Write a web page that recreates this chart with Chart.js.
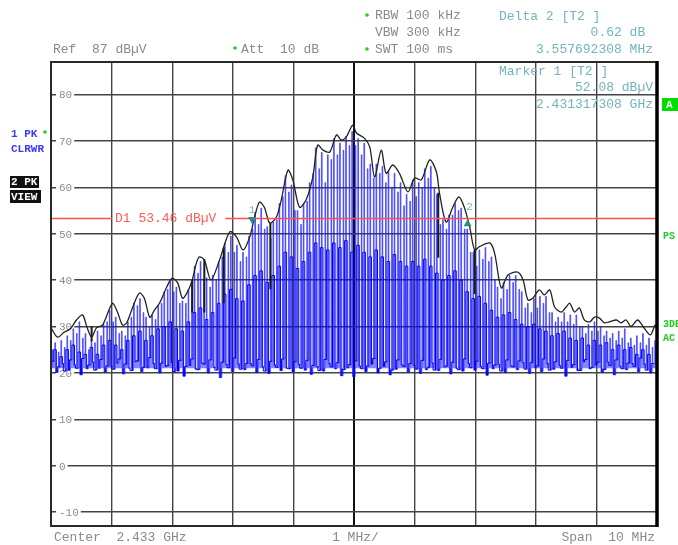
<!DOCTYPE html>
<html>
<head>
<meta charset="utf-8">
<script src="https://cdn.jsdelivr.net/npm/chart.js@4.4.0/dist/chart.umd.min.js"></script>
<style>
  html, body { margin: 0; padding: 0; background: #fff; }
  canvas { display: block; }
</style>
</head>
<body>
<canvas id="chart" width="678" height="545"></canvas>
<script>
// frequency axis: offset from center 2.433 GHz, in MHz
const spanMin = -5, spanMax = 5;
const refLevel = 87, bottomLevel = -13;
const yTickLabels = [80, 70, 60, 50, 40, 30, 20, 10, 0, -10];
const xGridValues = [-5, -4, -3, -2, -1, 0, 1, 2, 3, 4, 5];

// trace 2 (PK, VIEW / max hold)
const viewFreq = [
  -5.00, -4.89, -4.78, -4.68, -4.58, -4.48, -4.41, -4.33, -4.25, -4.15,
  -4.03, -3.98, -3.90, -3.82, -3.75, -3.65, -3.54, -3.46, -3.37, -3.29,
  -3.21, -3.09, -3.00, -2.91, -2.83, -2.75, -2.67, -2.60, -2.55, -2.47,
  -2.36, -2.22, -2.05, -1.94, -1.83, -1.72, -1.64, -1.56, -1.48, -1.39,
  -1.28, -1.20, -1.09, -1.01, -0.90, -0.79, -0.68, -0.60, -0.51, -0.40,
  -0.29, -0.21, -0.13, -0.02, 0.04, 0.17, 0.26, 0.34, 0.45, 0.53,
  0.64, 0.75, 0.89, 1.00, 1.11, 1.25, 1.36, 1.41, 1.52, 1.63,
  1.73, 1.82, 1.91, 1.99, 2.07, 2.24, 2.32, 2.43, 2.54, 2.70,
  2.79, 2.87, 2.95, 3.06, 3.14, 3.23, 3.31, 3.42, 3.50, 3.56,
  3.64, 3.72, 3.80, 3.89, 3.97, 4.05, 4.13, 4.21, 4.33, 4.41,
  4.49, 4.57, 4.68, 4.77, 4.89, 4.97, 5.00
];
const viewLevel = [
  29.7, 27.7, 28.8, 29.5, 31.4, 32.5, 30.0, 27.7, 29.7, 30.3,
  34.0, 35.0, 33.0, 30.3, 30.8, 34.2, 37.2, 36.1, 32.0, 33.6,
  35.0, 38.5, 40.4, 39.4, 36.1, 37.4, 40.0, 43.7, 45.0, 44.3,
  40.0, 44.3, 50.4, 49.3, 46.5, 49.3, 53.6, 56.8, 55.7, 52.3,
  53.6, 57.3, 63.7, 61.6, 55.7, 57.3, 62.2, 69.1, 68.0, 67.6,
  71.3, 70.2, 70.8, 73.4, 71.7, 70.6, 68.7, 62.2, 68.0, 63.0,
  64.8, 63.0, 59.0, 62.0, 61.6, 65.9, 63.3, 58.8, 52.5, 55.7,
  57.9, 55.7, 51.4, 46.5, 47.2, 48.0, 45.8, 38.3, 41.1, 41.7,
  40.0, 35.7, 36.1, 37.9, 36.8, 37.9, 34.2, 33.1, 34.2, 35.0,
  33.1, 34.0, 31.4, 31.0, 32.0, 31.8, 30.8, 31.0, 31.4, 30.8,
  31.4, 30.0, 31.4, 30.0, 28.2, 30.3, 29.5
];
// short drop-outs of trace 2
const dipFreq = [-4.33, -2.67, -2.47, -2.15, -1.38, 1.39, 1.99];
const dipTop = [30.0, 40.0, 44.5, 47.0, 52.3, 58.8, 46.5];
const dipBottom = [26.8, 33.0, 33.0, 35.0, 38.0, 44.8, 37.0];

// trace 1 (PK, CLRWR), one cell every 0.1 MHz:
// a tall spike, a second spike, a short dark spike and two troughs
const gridStart = -5, gridStep = 0.1;
const spikeTop = [
  28, 26.5, 27, 28, 29.5, 31, 28.5, 27, 29, 30.5,
  33.5, 32, 29, 31, 35, 36, 32, 32.5, 34.5, 37.5,
  40, 38.5, 35.5, 38, 43, 44, 40.5, 41, 44, 48,
  49.5, 47.5, 46, 49.5, 54.5, 55.5, 51.5, 52.5, 56.5, 62.5,
  60.5, 55, 56.5, 61, 68.5, 67.5, 67, 70.5, 69.5, 71,
  72, 70.5, 69.5, 65, 65, 64.5, 63.5, 63, 61, 58.5,
  61.5, 61, 64, 64.5, 58.5, 53, 54, 56.5, 55.5, 51,
  46, 46.5, 47, 45, 38.5, 39.5, 41, 41, 37.5, 35,
  36, 36.5, 36.5, 33, 32, 33, 32.5, 32.5, 30, 30.5,
  31, 30, 29, 28.5, 29, 29.5, 27.5, 28, 28.5, 27.5,
  27
];
const secondTop = [
  25, 24.5, 25.5, 27, 28.5, 27.5, 25, 26.5, 28, 31,
  31, 28.5, 28, 32, 34.5, 33, 30, 31.5, 35, 38,
  37.5, 35, 35, 40, 41.5, 40, 38.5, 40, 45, 46,
  46, 44, 45, 51, 52, 51, 49, 53, 58, 59,
  55, 52, 57, 63, 64, 61, 66, 67, 68, 69,
  69, 67, 64, 62, 63, 61, 60, 59, 56, 57,
  58, 60, 62, 60, 52, 51, 54, 55, 51, 46,
  43, 44.5, 44, 40, 36, 38, 39.5, 38, 34, 33,
  34, 35, 33, 31, 31, 31, 30.5, 30, 28.5, 29,
  29, 28, 27.5, 27, 27.5, 26.5, 26, 26.5, 26, 25.5
];
const shortTop = [
  24, 25, 23.5, 25, 26, 24.5, 24, 25.5, 24, 26,
  27, 26, 25, 27, 28, 29, 27, 28, 29.5, 30,
  31, 29.5, 29, 31, 33, 34, 31.5, 33, 35, 37,
  38, 36, 35.5, 39, 41, 42, 39.5, 41, 43, 46,
  45, 42.5, 44, 46, 48, 47, 46.5, 48, 47, 48.5,
  46, 47.5, 46, 45, 46.5, 45, 44, 45.5, 44, 43,
  44, 43, 44.5, 43, 41.5, 40, 41, 42, 40, 37.5,
  36, 36.5, 35, 33.5, 32, 32.5, 33, 31.5, 30.5, 30,
  30.5, 29.5, 29, 28, 28.5, 29, 27.5, 27, 27.5, 26,
  27, 26, 26.5, 25, 26, 25, 25.5, 24, 25, 24
];
const troughA = [
  21.2, 20.1, 22.0, 20.6, 21.7, 19.6, 20.9, 22.3, 21.0, 20.2,
  21.5, 22.1, 19.8, 21.0, 22.4, 20.3, 21.1, 22.0, 20.0, 21.4,
  22.2, 20.4, 19.3, 21.6, 20.8, 22.1, 20.0, 21.2, 19.0, 21.8,
  20.3, 21.9, 20.7, 22.0, 20.1, 21.3, 19.9, 21.7, 20.5, 21.0,
  20.2, 21.8, 20.6, 19.7, 21.3, 20.4, 22.0, 20.9, 19.4, 21.1,
  19.2, 21.5, 20.3, 21.9, 20.0, 21.4, 19.6, 20.8, 21.7, 20.2,
  21.6, 19.9, 20.7, 22.1, 20.5, 21.3, 19.8, 21.0, 20.4, 22.0,
  20.6, 21.4, 19.5, 20.9, 21.8, 20.1, 21.5, 20.7, 22.2, 19.9,
  21.1, 20.3, 22.0, 20.8, 21.6, 19.3, 21.2, 20.5, 22.4, 20.9,
  21.7, 20.2, 22.3, 19.6, 21.4, 20.7, 22.0, 20.3, 21.9, 20.0
];
const troughB = [
  22.5, 21.3, 20.4, 22.8, 21.0, 23.1, 21.7, 20.6, 22.9, 21.5,
  20.8, 23.0, 21.9, 20.5, 22.6, 21.2, 23.3, 20.9, 22.1, 21.6,
  20.3, 22.7, 21.4, 23.0, 20.7, 21.9, 22.8, 20.6, 22.3, 21.1,
  23.2, 20.8, 22.0, 21.5, 22.9, 20.4, 22.5, 21.2, 23.0, 20.9,
  22.4, 21.0, 22.7, 21.6, 20.5, 22.9, 21.3, 22.2, 20.7, 21.8,
  22.6, 20.9, 21.5, 23.1, 21.0, 22.4, 20.6, 22.8, 21.4, 22.0,
  20.8, 22.7, 21.2, 20.6, 22.9, 21.5, 22.3, 20.7, 23.0, 21.1,
  22.5, 20.9, 22.1, 21.7, 20.4, 22.8, 21.3, 22.6, 20.8, 22.2,
  21.5, 23.0, 20.6, 22.4, 21.0, 22.7, 21.8, 20.5, 22.9, 21.2,
  22.3, 20.7, 21.6, 22.8, 20.9, 22.1, 21.4, 23.2, 20.6, 22.0
];

const displayLine = 53.46;
const marker1 = { freq: -1.682692, level: 52.08 };
const delta2 = { freq: 3.557692, level: 0.62 };

const mono = '"Liberation Mono", "DejaVu Sans Mono", monospace';

// build datasets
const viewData = viewFreq.map((f, i) => ({ x: f, y: viewLevel[i] }));
const dipData = [];
dipFreq.forEach((f, i) => {
  dipData.push({ x: f, y: dipTop[i] }, { x: f, y: dipBottom[i] }, { x: f, y: null });
});
// stepped traces: each value is held until the next point
const lightData = [];
const darkData = [];
for (let k = 0; k < spikeTop.length; k++) {
  const f = gridStart + k * gridStep;
  lightData.push({ x: f - 0.025, y: spikeTop[k] });
  if (k < secondTop.length) {
    lightData.push({ x: f + 0.02, y: troughA[k] });
    lightData.push({ x: f + 0.032, y: secondTop[k] });
    lightData.push({ x: f + 0.062, y: troughB[k] });
    darkData.push({ x: f - 0.012, y: shortTop[k] });
    darkData.push({ x: f + 0.004, y: troughA[k] });
    darkData.push({ x: f + 0.045, y: troughB[k] });
  }
}
lightData.push({ x: spanMax + 0.03, y: troughB[troughB.length - 1] });

const analyzerPlugin = {
  id: 'analyzer',
  beforeDraw(chart) {
    const ctx = chart.ctx;
    ctx.save();
    ctx.fillStyle = '#fff';
    ctx.fillRect(0, 0, chart.width, chart.height);
    ctx.restore();
  },
  beforeDatasetsDraw(chart) {
    const { ctx, chartArea: a, scales: { y } } = chart;
    ctx.save();
    ctx.font = '11px ' + mono;
    ctx.textBaseline = 'middle';
    yTickLabels.forEach(v => {
      const py = y.getPixelForValue(v);
      const txt = String(v);
      const w = ctx.measureText(txt).width;
      ctx.fillStyle = '#fff';
      ctx.fillRect(a.left + 5, py - 2, w + 5, 4);
      ctx.fillStyle = '#8c8c8c';
      ctx.fillText(txt, a.left + 8, py + 1);
    });
    ctx.restore();
  },
  afterDatasetsDraw(chart) {
    const { ctx, chartArea: a, scales: { x, y } } = chart;
    ctx.save();
    // display line D1
    const dy = Math.round(y.getPixelForValue(displayLine)) + 0.5;
    ctx.font = '13px ' + mono;
    ctx.textBaseline = 'middle';
    const label = 'D1 ' + displayLine.toFixed(2) + ' dB\u00b5V';
    const lx = a.left + 64;
    const lw = ctx.measureText(label).width;
    ctx.strokeStyle = '#ff5050';
    ctx.lineWidth = 1.3;
    ctx.beginPath();
    ctx.moveTo(a.left, dy); ctx.lineTo(lx - 3, dy);
    ctx.moveTo(lx + lw + 9, dy); ctx.lineTo(a.right, dy);
    ctx.stroke();
    ctx.fillStyle = '#ff5a5a';
    ctx.fillText(label, lx, dy);

    // markers
    const m1x = x.getPixelForValue(marker1.freq), m1y = y.getPixelForValue(marker1.level);
    const m2x = x.getPixelForValue(marker1.freq + delta2.freq), m2y = y.getPixelForValue(marker1.level + delta2.level);
    ctx.fillStyle = '#1f9484';
    ctx.beginPath();
    ctx.moveTo(m1x - 4, m1y - 7); ctx.lineTo(m1x + 4, m1y - 7); ctx.lineTo(m1x, m1y); ctx.closePath();
    ctx.fill();
    ctx.beginPath();
    ctx.moveTo(m2x - 4, m2y + 5); ctx.lineTo(m2x + 4, m2y + 5); ctx.lineTo(m2x, m2y - 2); ctx.closePath();
    ctx.fill();
    ctx.fillStyle = '#72b5bd';
    ctx.font = '11px ' + mono;
    ctx.textAlign = 'center';
    ctx.fillText('1', m1x, m1y - 14);
    ctx.fillText('2', m2x + 2, m2y - 14);

    // frame
    ctx.strokeStyle = '#2a2a2a';
    ctx.lineWidth = 2;
    ctx.strokeRect(a.left, a.top, a.right - a.left, a.bottom - a.top);
    ctx.strokeStyle = '#000';
    ctx.lineWidth = 3.5;
    ctx.beginPath();
    ctx.moveTo(a.right, a.top - 1); ctx.lineTo(a.right, a.bottom + 1);
    ctx.stroke();
    ctx.restore();
  },
  afterDraw(chart) {
    const ctx = chart.ctx;
    ctx.save();
    ctx.textBaseline = 'middle';
    const dot = (cx, cy) => {
      ctx.fillStyle = '#22cc22';
      ctx.beginPath(); ctx.arc(cx, cy, 1.8, 0, Math.PI * 2); ctx.fill();
    };
    // header (gray)
    ctx.font = '13px ' + mono;
    ctx.fillStyle = '#8a8a8a';
    ctx.fillText('Ref  87 dB\u00b5V', 53, 50);
    ctx.fillText('Att  10 dB', 241, 50);
    ctx.fillText('RBW 100 kHz', 375, 16);
    ctx.fillText('VBW 300 kHz', 375, 33);
    ctx.fillText('SWT 100 ms', 375, 50);
    dot(235, 48); dot(367, 15); dot(367, 49);

    // marker readout (teal)
    ctx.fillStyle = '#72b5bd';
    ctx.fillText('Delta 2 [T2 ]', 499, 17);
    ctx.fillText('Marker 1 [T2 ]', 499, 72);
    ctx.textAlign = 'right';
    ctx.fillText('0.62 dB ', 653, 33);
    ctx.fillText('3.557692308 MHz', 653, 50);
    ctx.fillText('52.08 dB\u00b5V', 653, 88);
    ctx.fillText('2.431317308 GHz', 653, 105);

    // footer
    ctx.fillStyle = '#8a8a8a';
    ctx.fillText('Span  10 MHz', 655, 538);
    ctx.textAlign = 'left';
    ctx.fillText('Center  2.433 GHz', 54, 538);
    ctx.fillText('1 MHz/', 332, 538);

    // trace labels at left
    ctx.font = 'bold 11px ' + mono;
    ctx.fillStyle = '#3a3aff';
    ctx.fillText('1 PK', 11, 134);
    ctx.fillText('CLRWR', 11, 149);
    dot(45, 132);
    ctx.fillStyle = '#111';
    ctx.fillRect(10, 176, 29, 12);
    ctx.fillRect(10, 190, 31, 13);
    ctx.fillStyle = '#fff';
    ctx.fillText('2 PK', 11, 182.5);
    ctx.fillText('VIEW', 11, 197);

    // status flags at right
    ctx.fillStyle = '#00dd00';
    ctx.fillRect(662, 98, 16, 13);
    ctx.fillStyle = '#fff';
    ctx.fillText('A', 666, 105);
    ctx.font = 'bold 10px ' + mono;
    ctx.fillStyle = '#22cc22';
    ctx.fillText('PS', 663, 236);
    ctx.fillText('3DB', 663, 324);
    ctx.fillText('AC', 663, 338);
    ctx.restore();
  }
};

new Chart(document.getElementById('chart'), {
  type: 'line',
  data: {
    datasets: [
      { label: '2 PK VIEW', data: viewData, borderColor: '#222', borderWidth: 1.3, pointRadius: 0, tension: 0.3, order: 0 },
      { label: 'dropouts', data: dipData, borderColor: '#1a1a1a', borderWidth: 2, pointRadius: 0, spanGaps: false, order: 1 },
      {
        label: '1 PK CLRWR (dense part)', data: darkData, stepped: 'after',
        borderColor: '#0000f0', borderWidth: 1, pointRadius: 0, order: 2
      },
      {
        label: '1 PK CLRWR', data: lightData, stepped: 'after',
        borderColor: 'rgba(20,20,255,0.8)', borderWidth: 0.7,
        backgroundColor: 'rgba(60,60,255,0.62)', fill: { value: 21 },
        pointRadius: 0, order: 3
      }
    ]
  },
  options: {
    responsive: false,
    animation: false,
    devicePixelRatio: 1,
    layout: { padding: { left: 51, top: 62, right: 21, bottom: 19 } },
    plugins: { legend: { display: false }, tooltip: { enabled: false } },
    scales: {
      x: {
        type: 'linear', min: spanMin, max: spanMax,
        afterBuildTicks: s => { s.ticks = xGridValues.map(v => ({ value: v })); },
        ticks: { display: false },
        border: { display: false },
        grid: {
          drawTicks: false,
          color: c => (c.tick && c.tick.value === 0 ? '#111' : '#444'),
          lineWidth: c => (c.tick && c.tick.value === 0 ? 2 : 1.4)
        }
      },
      y: {
        min: bottomLevel, max: refLevel,
        afterBuildTicks: s => { s.ticks = yTickLabels.map(v => ({ value: v })); },
        ticks: { display: false },
        border: { display: false },
        grid: { drawTicks: false, color: '#444', lineWidth: 1.4 }
      }
    }
  },
  plugins: [analyzerPlugin]
});
</script>
</body>
</html>
